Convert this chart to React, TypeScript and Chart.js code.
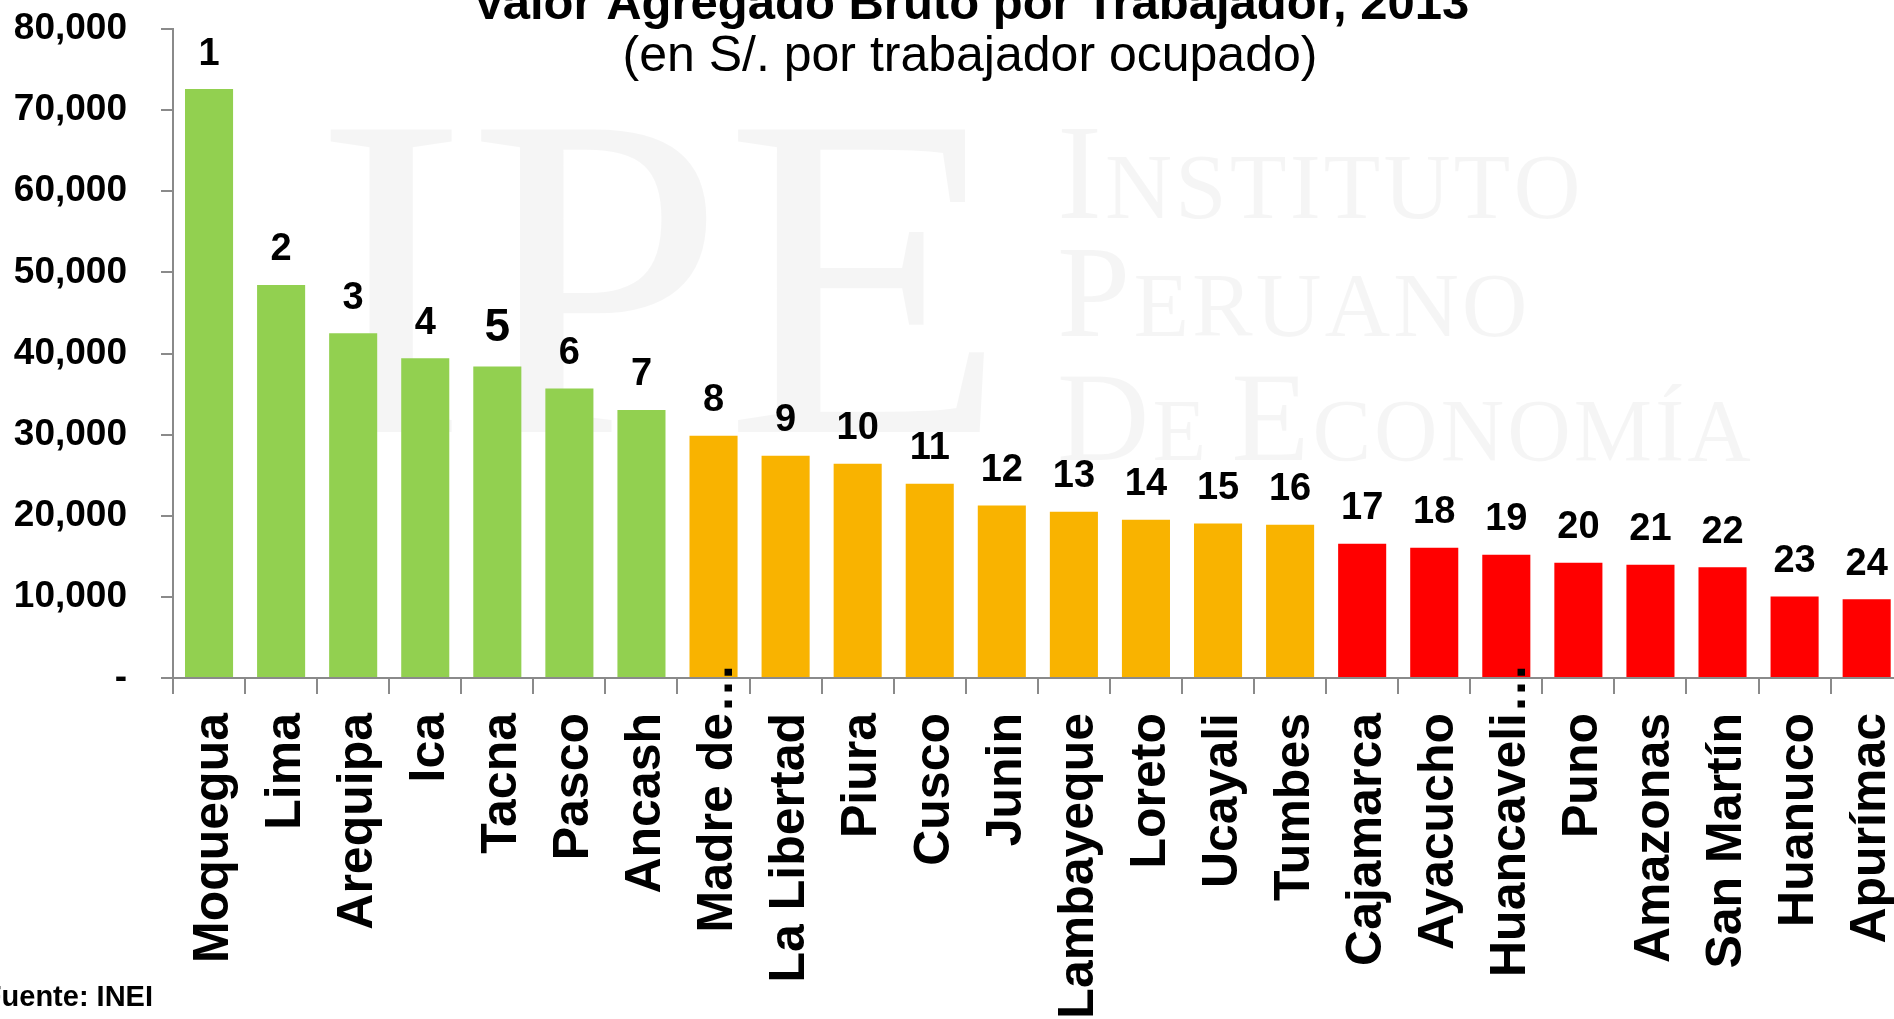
import React, { useEffect, useRef } from 'react';
import { Chart, registerables } from 'chart.js';

Chart.register(...registerables);

const regions = [
  'Moquegua', 'Lima', 'Arequipa', 'Ica', 'Tacna', 'Pasco', 'Ancash', 'Madre de…',
  'La Libertad', 'Piura', 'Cusco', 'Junin', 'Lambayeque', 'Loreto', 'Ucayali', 'Tumbes',
  'Cajamarca', 'Ayacucho', 'Huancaveli…', 'Puno', 'Amazonas', 'San Martín', 'Huanuco', 'Apurímac',
];
const values = [
  72600, 48450, 42500, 39400, 38400, 35700, 33050, 29850,
  27400, 26400, 23950, 21250, 20500, 19500, 19050, 18900,
  16550, 16050, 15200, 14200, 13950, 13650, 10050, 9700,
];
const ranks = [
  '1', '2', '3', '4', '5', '6', '7', '8', '9', '10', '11', '12',
  '13', '14', '15', '16', '17', '18', '19', '20', '21', '22', '23', '24',
];
const tiers = [
  'high', 'high', 'high', 'high', 'high', 'high', 'high',
  'mid', 'mid', 'mid', 'mid', 'mid', 'mid', 'mid', 'mid', 'mid',
  'low', 'low', 'low', 'low', 'low', 'low', 'low', 'low',
];
const tierColors: Record<string, string> = { high: '#92D050', mid: '#F9B300', low: '#FF0000' };
const yMax = 80000;
const yStep = 10000;
const titleText = 'Valor Agregado Bruto por Trabajador, 2013';
const subtitleText = '(en S/. por trabajador ocupado)';
const sourceText = 'Fuente: INEI';
const watermarkBig = 'IPE';
const watermarkLines = ['INSTITUTO', 'PERUANO', 'DE ECONOMÍA'];

const CANVAS_W = 1946;
const CANVAS_H = 1019;
const LABEL_FONT = '"Liberation Sans", Arial, sans-serif';
const SERIF = '"Liberation Serif", "DejaVu Serif", serif';
const X_TICK_LEN = 16;
const X_PAD = 19;

function drawSmallCaps(ctx: CanvasRenderingContext2D, text: string, x: number, y: number, big: number, small: number) {
  let cx = x;
  const words = text.split(' ');
  words.forEach((w, wi) => {
    for (let i = 0; i < w.length; i++) {
      const size = i === 0 ? big : small;
      ctx.font = `normal ${size}px ${SERIF}`;
      ctx.fillText(w[i], cx, y);
      cx += ctx.measureText(w[i]).width + 3;
    }
    if (wi < words.length - 1) {
      ctx.font = `normal ${small}px ${SERIF}`;
      cx += ctx.measureText(' ').width;
    }
  });
}

const overlayPlugin = {
  id: 'overlay',
  beforeDatasetsDraw(chart: any) {
    const ctx: CanvasRenderingContext2D = chart.ctx;
    ctx.save();
    ctx.fillStyle = 'rgba(0,0,0,0.04)';
    ctx.textAlign = 'left';
    ctx.textBaseline = 'alphabetic';
    ctx.font = `normal 462px ${SERIF}`;
    ctx.fillText(watermarkBig, 314, 432);
    drawSmallCaps(ctx, watermarkLines[0], 1057, 218, 135, 93);
    drawSmallCaps(ctx, watermarkLines[1], 1057, 336, 132, 91);
    drawSmallCaps(ctx, watermarkLines[2], 1057, 460, 128, 88);
    ctx.restore();
  },
  afterDraw(chart: any) {
    const ctx: CanvasRenderingContext2D = chart.ctx;
    const meta = chart.getDatasetMeta(0);
    ctx.save();
    ctx.fillStyle = '#000';
    // rank labels
    ctx.textAlign = 'center';
    ctx.textBaseline = 'middle';
    meta.data.forEach((bar: any, i: number) => {
      const emphasized = ranks[i] === '5';
      ctx.font = `bold ${emphasized ? 46 : 38}px ${LABEL_FONT}`;
      ctx.fillText(ranks[i], bar.x, bar.y - (emphasized ? 38 : 35));
    });
    // ellipsis of truncated labels
    const xs = chart.scales.x;
    const anchorY = xs.top + X_TICK_LEN + X_PAD;
    ctx.font = `bold 50px ${LABEL_FONT}`;
    regions.forEach((r, i) => {
      if (r.endsWith('…')) {
        ctx.save();
        ctx.translate(xs.getPixelForTick(i) + 5, anchorY);
        ctx.rotate(-Math.PI / 2);
        ctx.textAlign = 'left';
        ctx.textBaseline = 'middle';
        ctx.fillText('…', 0, 0);
        ctx.restore();
      }
    });
    // title
    ctx.textAlign = 'center';
    ctx.textBaseline = 'alphabetic';
    ctx.font = `bold 49px ${LABEL_FONT}`;
    ctx.fillText(titleText, 971, 19);
    ctx.font = `normal 50px ${LABEL_FONT}`;
    ctx.fillText(subtitleText, 970, 71);
    // source
    ctx.textAlign = 'right';
    ctx.font = `bold 29px ${LABEL_FONT}`;
    ctx.fillText(sourceText, 153, 1006);
    ctx.restore();
  },
};

export default function App() {
  const canvasRef = useRef<HTMLCanvasElement | null>(null);

  useEffect(() => {
    if (!canvasRef.current) return;
    const chart = new Chart(canvasRef.current, {
      type: 'bar',
      data: {
        labels: regions,
        datasets: [
          {
            data: values,
            backgroundColor: tiers.map((t) => tierColors[t]),
            borderWidth: 0,
            barPercentage: 0.667,
            categoryPercentage: 1,
          },
        ],
      },
      options: {
        responsive: false,
        animation: false,
        devicePixelRatio: 1,
        layout: { padding: { top: 29, right: 16, left: 0, bottom: 0 } },
        plugins: {
          legend: { display: false },
          title: { display: false },
          tooltip: { enabled: false },
        },
        scales: {
          x: {
            afterFit: (scale: any) => {
              scale.height = 341;
            },
            grid: {
              drawOnChartArea: false,
              drawTicks: true,
              tickLength: X_TICK_LEN,
              color: '#8a8a8a',
              lineWidth: 2,
              offset: true,
            },
            border: { display: true, color: '#8a8a8a', width: 2 },
            ticks: {
              autoSkip: false,
              minRotation: 90,
              maxRotation: 90,
              padding: X_PAD,
              labelOffset: 5,
              color: '#000',
              font: { family: LABEL_FONT, size: 50, weight: 'bold' },
              callback: (_v: any, i: number) => regions[i].replace('…', ''),
            },
          },
          y: {
            min: 0,
            max: yMax,
            afterFit: (scale: any) => {
              scale.width = 173;
              scale.paddingTop = 0;
              scale.paddingBottom = 0;
            },
            grid: {
              drawOnChartArea: false,
              drawTicks: true,
              tickLength: 12,
              color: '#8a8a8a',
              lineWidth: 2,
            },
            border: { display: true, color: '#8a8a8a', width: 2 },
            ticks: {
              stepSize: yStep,
              padding: 34,
              color: '#000',
              font: { family: LABEL_FONT, size: 37, weight: 'bold' },
              callback: (v: any) => (Number(v) === 0 ? '-' : Number(v).toLocaleString('en-US')),
            },
          },
        },
      },
      plugins: [overlayPlugin],
    } as any);
    return () => chart.destroy();
  }, []);

  return (
    <div
      style={{
        position: 'fixed',
        left: 0,
        top: 0,
        width: '100vw',
        height: '100vh',
        overflow: 'hidden',
        background: '#fff',
      }}
    >
      <canvas
        ref={canvasRef}
        width={CANVAS_W}
        height={CANVAS_H}
        style={{ display: 'block', width: CANVAS_W + 'px', height: CANVAS_H + 'px' }}
      />
    </div>
  );
}
